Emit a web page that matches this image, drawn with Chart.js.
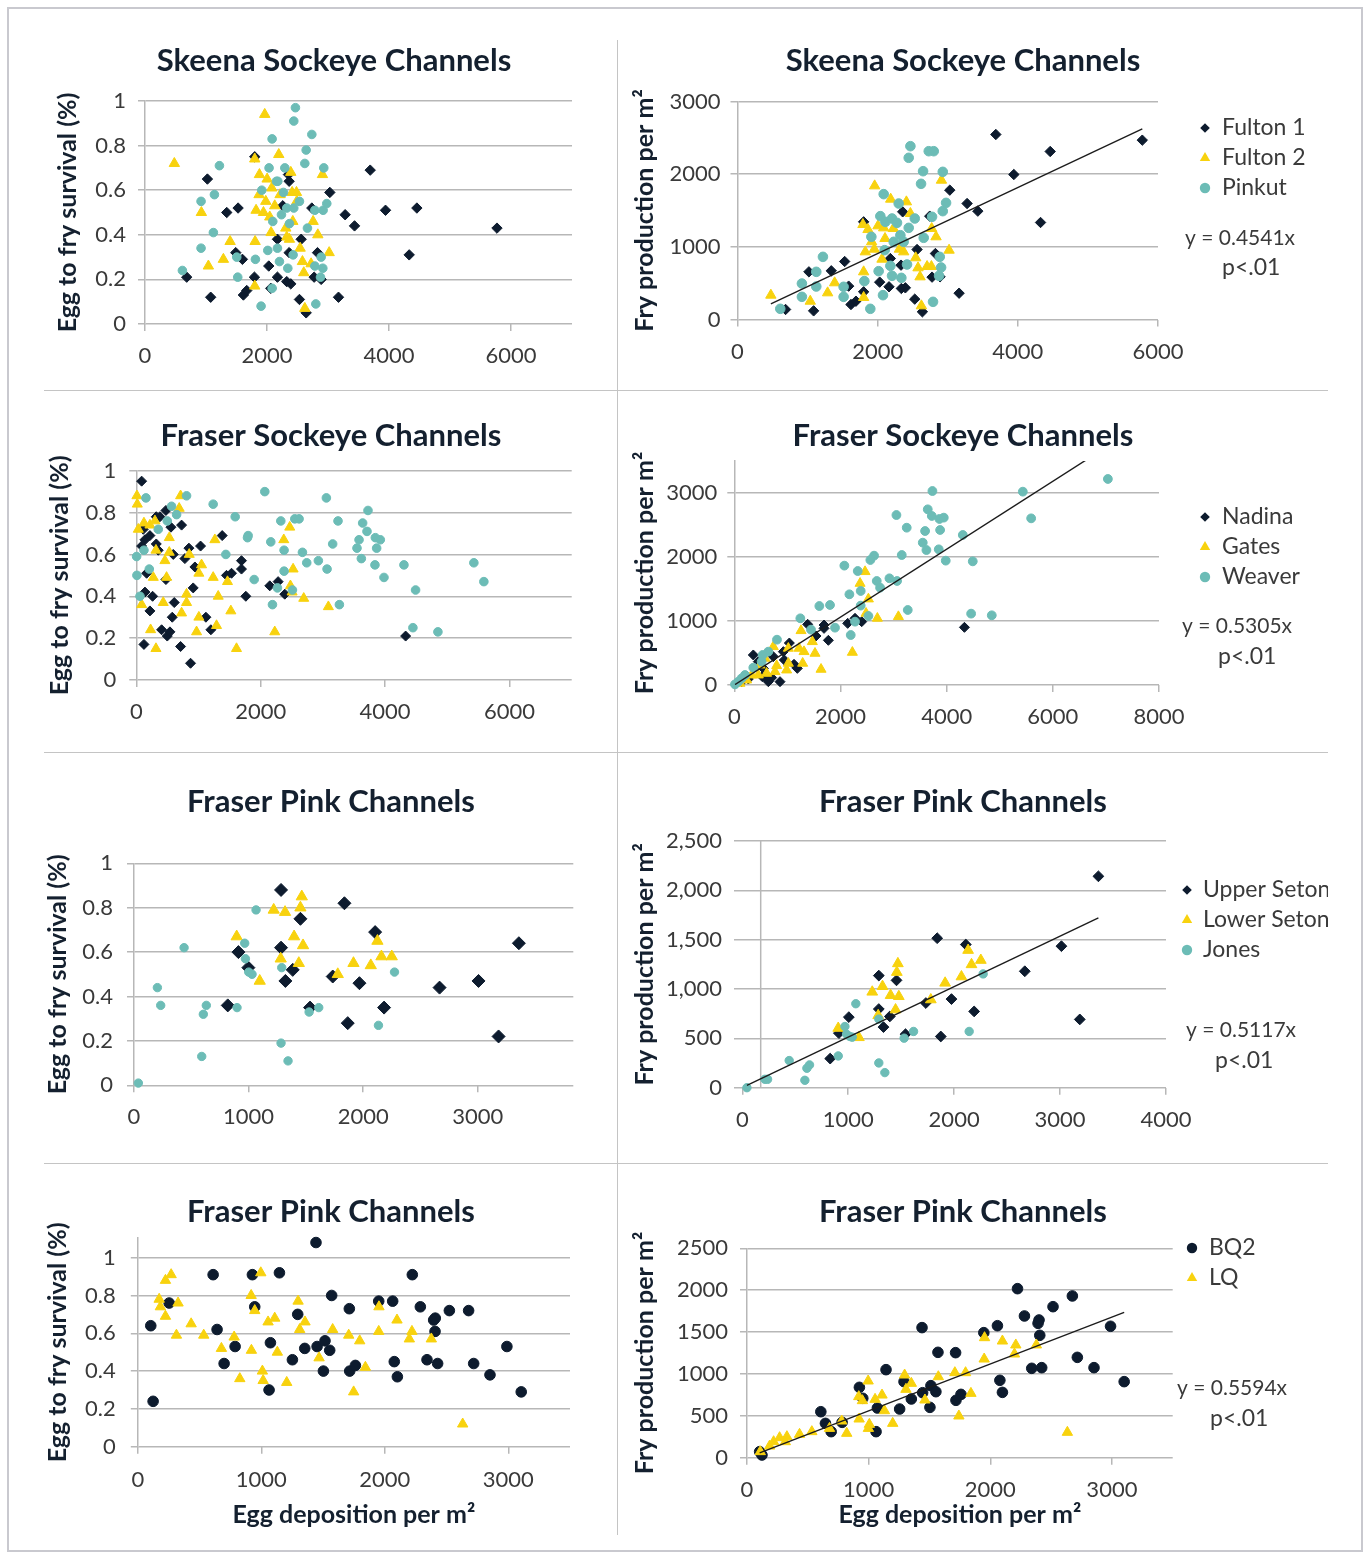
<!DOCTYPE html>
<html>
<head>
<meta charset="utf-8">
<title>Egg to fry survival and fry production in spawning channels</title>
<script src="https://cdn.jsdelivr.net/npm/chart.js@4.4.1/dist/chart.umd.min.js"></script>
<style>
  html, body { margin: 0; padding: 0; background: #ffffff; }
  #page { position: relative; width: 1367px; height: 1554px; overflow: hidden; background: #ffffff; }
  .frame { position: absolute; left: 7px; top: 7px; width: 1356px; height: 1545px; border: 2px solid #c9c9cf; box-sizing: border-box; }
  .vrule { position: absolute; left: 617px; top: 40px; width: 1px; height: 1495px; background: #c4c4c4; }
  .hrule { position: absolute; left: 44px; width: 1284px; height: 1px; background: #c4c4c4; }
  canvas { position: absolute; }
</style>
</head>
<body>
<div id="page">
  <div class="frame"></div>
  <div class="vrule"></div>
  <div class="hrule" style="top:390px"></div>
  <div class="hrule" style="top:752px"></div>
  <div class="hrule" style="top:1163px"></div>
  <canvas id="p1"></canvas>
  <canvas id="p2"></canvas>
  <canvas id="p3"></canvas>
  <canvas id="p4"></canvas>
  <canvas id="p5"></canvas>
  <canvas id="p6"></canvas>
  <canvas id="p7"></canvas>
  <canvas id="p8"></canvas>
</div>
<script>
// ---------------- Series names ----------------
const skeenaNames = ['Fulton 1', 'Fulton 2', 'Pinkut'];
const fraserSockeyeNames = ['Nadina', 'Gates', 'Weaver'];
const setonNames = ['Upper Seton', 'Lower Seton', 'Jones'];
const pinkNames = ['BQ2', 'LQ'];

// ---------------- Skeena sockeye: egg deposition vs survival ----------------
const skeenaSurvFulton1 = [[684,.21],[1023,.65],[1077,.12],[1340,.50],[1526,.52],[1488,.32],[1597,.29],[1613,.13],[1668,.15],[1799,.75],[1794,.21],[2029,.26],[2062,.16],[2171,.38],[2171,.21],[2352,.67],[2363,.64],[2324,.19],[2390,.18],[2560,.38],[2532,.11],[2642,.05],[2735,.52],[2773,.21],[2828,.32],[2888,.20],[3030,.59],[3172,.12],[3281,.49],[3435,.44],[3692,.69],[3943,.51],[4457,.52],[4331,.31],[5770,.43],[2363,.32],[2259,.53]];
const skeenaSurvFulton2 = [[481,.72],[924,.50],[1039,.26],[1285,.29],[1395,.37],[1805,.37],[1799,.74],[1799,.17],[1963,.94],[2193,.76],[1876,.67],[2002,.65],[2078,.61],[1870,.58],[1980,.55],[1821,.51],[1942,.50],[2127,.53],[2045,.48],[2067,.41],[2308,.43],[2324,.39],[2390,.68],[2412,.59],[2483,.59],[2423,.46],[2368,.38],[2543,.34],[2581,.28],[2603,.23],[2723,.27],[2620,.07],[2756,.46],[2833,.40],[2909,.67],[3019,.32],[2215,.58],[2488,.55]];
const skeenaSurvPinkut = [[613,.24],[919,.34],[919,.55],[1121,.41],[1138,.58],[1220,.71],[1504,.30],[1520,.21],[1810,.29],[1903,.08],[2013,.33],[2084,.16],[2171,.34],[2204,.28],[2341,.25],[2428,.31],[2084,.83],[2034,.70],[2292,.70],[2155,.64],[1914,.60],[2270,.59],[2095,.46],[2237,.49],[2368,.45],[2324,.52],[2439,.52],[2532,.55],[2466,.97],[2439,.91],[2735,.85],[2642,.78],[2620,.72],[2931,.70],[2663,.43],[2784,.51],[2920,.51],[2980,.54],[2888,.30],[2784,.26],[2915,.25],[2877,.21],[2800,.09],[2177,.64]];

// ---------------- Skeena sockeye: egg deposition vs fry production ----------------
const skeenaFryFulton1 = [[686,138],[1086,119],[1019,656],[1338,670],[1529,798],[1586,459],[1619,206],[1690,252],[1800,1344],[1800,381],[2029,514],[2162,450],[2181,839],[2338,427],[2395,436],[2357,1482],[2529,280],[2562,963],[2638,106],[2743,1422],[2776,583],[2824,908],[2890,587],[3029,1780],[3162,362],[3276,1596],[3429,1491],[3686,2546],[3943,1995],[4324,1335],[4462,2312],[5776,2468],[2333,748]];
const skeenaFryFulton2 = [[476,335],[1038,252],[1286,367],[1386,505],[1800,303],[1800,656],[1790,1307],[1957,1839],[1862,1238],[2005,1289],[1824,931],[1952,968],[2086,1261],[2186,1656],[2410,1619],[2467,1459],[2105,1115],[2224,1252],[2062,830],[2371,931],[2310,968],[2543,849],[2576,711],[2605,587],[2705,729],[2767,729],[2624,188],[2771,1252],[2833,1138],[2910,1917],[3019,954],[1914,1069]];
const skeenaFryPinkut = [[610,147],[919,495],[919,312],[1124,656],[1124,454],[1219,862],[1514,450],[1514,312],[1810,528],[1895,147],[2076,335],[2014,665],[2181,738],[2205,601],[2338,573],[2419,757],[1910,1138],[2038,1422],[2086,1725],[2110,1344],[2205,1390],[2276,1330],[2300,1596],[2100,954],[2229,1069],[2324,1160],[2371,1069],[2443,1261],[2529,1390],[2776,1413],[2657,1124],[2467,2385],[2443,2225],[2729,2316],[2800,2316],[2648,2041],[2929,2032],[2619,1867],[2929,1491],[2976,1605],[2886,862],[2905,716],[2876,601],[2790,243]];

// ---------------- Fraser sockeye: egg deposition vs survival ----------------
const fraserSurvNadina = [[86,.95],[321,.78],[380,.78],[476,.81],[557,.73],[728,.74],[112,.72],[139,.67],[219,.69],[86,.64],[321,.65],[353,.62],[594,.60],[781,.58],[846,.63],[1033,.64],[942,.54],[1381,.69],[166,.51],[476,.48],[139,.42],[262,.40],[219,.33],[610,.37],[578,.30],[407,.24],[498,.21],[541,.23],[123,.17],[712,.16],[872,.08],[915,.44],[1119,.30],[1199,.24],[1450,.50],[1531,.51],[1691,.57],[1691,.53],[1761,.40],[2146,.45],[2280,.47],[2387,.41],[4330,.21]];
const fraserSurvGates = [[10,.88],[16,.84],[712,.88],[690,.82],[32,.72],[123,.75],[219,.74],[300,.76],[530,.68],[1263,.67],[316,.62],[530,.61],[460,.57],[851,.60],[273,.49],[487,.49],[1006,.51],[1049,.55],[1236,.49],[1466,.47],[86,.36],[433,.37],[808,.41],[808,.37],[728,.32],[1317,.40],[1006,.30],[1520,.33],[230,.24],[316,.15],[969,.23],[1290,.26],[1611,.15],[2226,.23],[2467,.73],[2371,.67],[2521,.53],[2478,.45],[2505,.42],[2692,.39],[3088,.35]];
const fraserSurvWeaver = [[5,.59],[10,.50],[59,.40],[123,.62],[209,.53],[155,.87],[567,.83],[808,.88],[648,.79],[498,.76],[353,.72],[1236,.84],[1590,.78],[1440,.60],[1798,.69],[1788,.68],[1895,.48],[2066,.90],[2162,.66],[2323,.76],[2376,.62],[2548,.77],[2617,.77],[2671,.61],[2376,.52],[2269,.44],[2510,.43],[2189,.36],[2740,.56],[2927,.57],[3067,.53],[3056,.87],[3243,.76],[3157,.65],[3265,.36],[3548,.63],[3581,.67],[3618,.58],[3639,.75],[3709,.71],[3725,.81],[3843,.68],[3923,.67],[3864,.63],[3837,.55],[3982,.49],[4303,.55],[4490,.43],[4447,.25],[4849,.23],[5427,.56],[5588,.47]];

// ---------------- Fraser sockeye: egg deposition vs fry production ----------------
const fraserFryNadina = [[4335,901],[1382,948],[1690,937],[1690,885],[2136,963],[2274,1042],[2400,990],[1539,766],[1772,698],[1037,656],[924,521],[942,391],[1125,323],[1187,260],[861,52],[704,115],[528,130],[452,365],[547,260],[264,94],[138,52],[358,469],[735,443],[641,52]];
const fraserFryGates = [[2463,1771],[2369,1588],[2526,1344],[2482,1120],[2695,1042],[3091,1068],[2224,510],[1257,849],[1470,677],[1313,521],[1520,495],[1288,339],[1634,245],[1018,339],[986,234],[798,302],[767,208],[735,599],[578,417],[484,312],[327,156],[232,78],[107,26],[452,156],[609,182],[1219,573],[1018,573]];
const fraserFryWeaver = [[7037,3219],[3732,3031],[5435,3021],[5592,2604],[3644,2745],[3720,2641],[3864,2594],[3946,2615],[3054,2656],[3248,2458],[3594,2406],[3877,2422],[4304,2344],[3550,2224],[3619,2109],[3851,2120],[3983,1943],[4492,1932],[3154,2031],[2633,2021],[2563,1953],[2073,1865],[2325,1781],[2683,1625],[2922,1667],[3066,1625],[2746,1521],[2381,1469],[2168,1417],[2381,1240],[1803,1250],[1602,1234],[3267,1172],[4461,1115],[4850,1089],[2526,1078],[2274,990],[1244,1042],[1897,896],[1445,865],[2193,781],[804,708],[641,521],[534,469],[358,271],[515,365],[201,156],[75,52],[13,10],[138,104]];

// ---------------- Fraser pink (Seton / Jones): survival ----------------
const setonSurvUpper = [[1283,.88],[1836,.82],[1452,.75],[2104,.69],[1283,.62],[911,.60],[998,.53],[1385,.52],[1321,.47],[1734,.49],[1967,.46],[818,.36],[1536,.35],[2182,.35],[1865,.28],[2666,.44],[3006,.47],[3358,.64],[3181,.22]];
const setonSurvLower = [[1464,.85],[1219,.79],[1318,.78],[1452,.80],[896,.67],[1397,.67],[1475,.63],[1280,.57],[1438,.55],[1097,.47],[1778,.50],[1915,.55],[2066,.54],[2124,.65],[2159,.58],[2249,.58]];
const setonSurvJones = [[38,.01],[204,.44],[233,.36],[437,.62],[591,.13],[605,.32],[631,.36],[899,.35],[966,.64],[972,.57],[1001,.51],[1030,.50],[1065,.79],[1283,.19],[1289,.53],[1344,.11],[1528,.33],[1612,.35],[2133,.27],[2273,.51]];

// ---------------- Fraser pink (Seton / Jones): fry production ----------------
const setonFryUpper = [[3362,2142],[1840,1515],[2110,1451],[3013,1434],[2667,1180],[3186,692],[1289,1136],[1456,1088],[1289,797],[1393,722],[1333,614],[1006,715],[912,553],[830,295],[1541,542],[1733,858],[1975,898],[2189,773],[1874,519]];
const setonFryLower = [[1469,1258],[1459,1170],[1227,970],[1324,1027],[1400,936],[1478,925],[1447,790],[1283,732],[906,603],[1101,509],[1780,892],[1915,1061],[2069,1125],[2132,1393],[2164,1248],[2252,1292]];
const setonFryJones = [[44,0],[214,85],[239,85],[443,275],[591,75],[610,197],[635,231],[906,322],[969,620],[985,542],[1016,519],[1038,512],[1072,851],[1289,251],[1346,153],[1289,695],[1528,502],[1617,570],[2142,570],[2274,1153]];

// ---------------- Fraser pink (BQ2 / LQ): survival ----------------
const pinkSurvBQ2 = [[1443,1.08],[610,.91],[928,.91],[1147,.92],[2223,.91],[254,.76],[105,.64],[124,.24],[642,.62],[788,.53],[699,.44],[947,.74],[1074,.55],[1063,.30],[1252,.46],[1295,.70],[1352,.52],[1452,.53],[1516,.56],[1554,.51],[1503,.40],[1570,.80],[1713,.73],[1716,.40],[1762,.43],[1951,.77],[2064,.77],[2077,.45],[2102,.37],[2288,.74],[2396,.67],[2409,.68],[2407,.61],[2342,.46],[2428,.44],[2523,.72],[2679,.72],[2720,.44],[2852,.38],[2989,.53],[3105,.29]];
const pinkSurvLQ = [[224,.88],[270,.91],[173,.78],[183,.74],[224,.69],[326,.76],[313,.59],[432,.65],[534,.59],[677,.52],[780,.58],[826,.36],[918,.80],[947,.72],[996,.92],[920,.51],[1009,.40],[1015,.35],[1055,.66],[1109,.68],[1130,.50],[1206,.34],[1298,.77],[1311,.62],[1354,.66],[1468,.47],[1578,.62],[1708,.59],[1797,.56],[1748,.29],[1843,.42],[1953,.74],[1951,.61],[2099,.67],[2199,.57],[2220,.61],[2377,.57],[2631,.12]];

// ---------------- Fraser pink (BQ2 / LQ): fry production ----------------
const pinkFryBQ2 = [[2224,2018],[2675,1931],[2516,1803],[2281,1692],[2401,1644],[2393,1604],[2407,1461],[2989,1569],[2059,1576],[1947,1493],[1439,1553],[1570,1258],[1715,1254],[2341,1067],[2423,1075],[2716,1198],[2853,1075],[3101,908],[2079,924],[2100,780],[1143,1051],[924,840],[952,709],[1291,908],[1512,860],[1444,776],[1553,788],[1759,756],[1718,685],[1351,701],[1504,601],[1072,593],[1255,581],[607,549],[645,410],[692,311],[782,422],[1061,311],[104,72],[123,32]];
const pinkFryLQ = [[1953,1433],[2100,1393],[2210,1346],[2199,1238],[2379,1346],[1950,1178],[1573,967],[1709,1015],[1797,1015],[1841,768],[1742,498],[2634,303],[996,916],[1296,987],[1307,816],[1351,888],[1463,689],[1110,748],[1053,697],[919,729],[949,681],[1130,561],[1198,410],[1006,398],[998,350],[922,462],[820,291],[779,438],[678,350],[533,311],[432,279],[328,251],[268,239],[219,191],[186,139],[315,191],[109,72]];

// ---------------- Fitted slopes (y = b·x) ----------------
const slopeSkeena = 0.4541;
const slopeFraserSockeye = 0.5305;
const slopeSeton = 0.5117;
const slopePink = 0.5594;

// ---------------- Axis ticks and labels ----------------
const survTicks = [0, 0.2, 0.4, 0.6, 0.8, 1];
const survLabels = ['0', '0.2', '0.4', '0.6', '0.8', '1'];
const egg6000Ticks = [0, 2000, 4000, 6000];
const egg6000Labels = ['0', '2000', '4000', '6000'];
const egg8000Ticks = [0, 2000, 4000, 6000, 8000];
const egg8000Labels = ['0', '2000', '4000', '6000', '8000'];
const egg3000Ticks = [0, 1000, 2000, 3000];
const egg3000Labels = ['0', '1000', '2000', '3000'];
const egg4000Ticks = [0, 1000, 2000, 3000, 4000];
const egg4000Labels = ['0', '1000', '2000', '3000', '4000'];
const fry3000Ticks = [0, 1000, 2000, 3000];
const fry3000Labels = ['0', '1000', '2000', '3000'];
const fry2500CommaTicks = [0, 500, 1000, 1500, 2000, 2500];
const fry2500CommaLabels = ['0', '500', '1,000', '1,500', '2,000', '2,500'];
const fry2500Labels = ['0', '500', '1000', '1500', '2000', '2500'];

// ---------------- Text ----------------
const titleSkeena = 'Skeena Sockeye Channels';
const titleFraserSockeye = 'Fraser Sockeye Channels';
const titlePink = 'Fraser Pink Channels';
const survAxisTitle = 'Egg to fry survival (%)';
const fryAxisTitle = 'Fry production per m²';
const eggAxisTitle = 'Egg deposition per m²';

// ---------------- Styling ----------------
const NAVY = '#0d1b2e';
const GOLD = '#f8d20e';
const TEAL = '#6cbcb6';
const GRID = '#b7b7b7';
const INK = '#14202f';
const TICK = '#3a3a3a';
const FAMILY = 'Lato, "Open Sans", sans-serif';
const AXIS_TITLE_SIZE = 25;
const AXIS_TITLE_HALF = AXIS_TITLE_SIZE * 1.2 / 2;

function drawMarker(ctx, shape, color, x, y, r) {
  ctx.fillStyle = color;
  ctx.beginPath();
  if (shape === 'rectRot') {
    ctx.moveTo(x, y - r); ctx.lineTo(x + r, y); ctx.lineTo(x, y + r); ctx.lineTo(x - r, y);
  } else if (shape === 'triangle') {
    ctx.moveTo(x, y - r); ctx.lineTo(x + 0.866 * r, y + 0.5 * r); ctx.lineTo(x - 0.866 * r, y + 0.5 * r);
  } else {
    ctx.arc(x, y, r, 0, Math.PI * 2);
  }
  ctx.closePath();
  ctx.fill();
}

// Panel title, legend, regression note and an interior vertical axis line.
function makeDecor(cfg) {
  const [L, T] = cfg.box;
  return {
    id: 'decor',
    beforeDatasetsDraw(chart) {
      if (cfg.axisAt === undefined) return;
      const ctx = chart.ctx, a = chart.chartArea;
      const x = chart.scales.x.getPixelForValue(cfg.axisAt);
      ctx.save();
      ctx.strokeStyle = GRID; ctx.lineWidth = 1.5;
      ctx.beginPath(); ctx.moveTo(x, a.top); ctx.lineTo(x, a.bottom); ctx.stroke();
      ctx.restore();
    },
    afterDraw(chart) {
      const ctx = chart.ctx;
      ctx.save();
      ctx.textBaseline = 'middle';
      ctx.textAlign = 'center';
      ctx.fillStyle = INK;
      ctx.font = 'bold 31px ' + FAMILY;
      ctx.fillText(cfg.title[0], cfg.title[1] - L, cfg.title[2] - T);
      ctx.textAlign = 'left';
      ctx.font = '23px ' + FAMILY;
      if (cfg.legend) {
        cfg.series.forEach((s, i) => {
          const y = cfg.legend.y[i] - T;
          const r = s.shape === 'rectRot' ? 4.8 : (s.shape === 'triangle' ? 6 : 5.2);
          drawMarker(ctx, s.shape, s.color, cfg.legend.x - L, y, r);
          ctx.fillStyle = TICK;
          ctx.fillText(s.name, cfg.legend.textX - L, y);
        });
      }
      (cfg.notes || []).forEach(n => {
        ctx.fillStyle = TICK;
        ctx.font = n[3] + 'px ' + FAMILY;
        ctx.fillText(n[0], n[1] - L, n[2] - T);
      });
      ctx.restore();
    }
  };
}

function buildPanel(cfg) {
  const canvas = document.getElementById(cfg.id);
  const [L, T, W, H] = cfg.box;
  const [ax0, ay0, ax1, ay1] = cfg.area;
  canvas.width = W; canvas.height = H;
  canvas.style.left = L + 'px'; canvas.style.top = T + 'px';
  canvas.style.width = W + 'px'; canvas.style.height = H + 'px';

  const yWidth = ax0 - L;
  const xHeight = cfg.xHeight;
  const n = cfg.series.length;
  const datasets = cfg.series.map((s, i) => ({
    type: 'scatter',
    label: s.name,
    data: s.points.map(p => ({ x: p[0], y: p[1] })),
    pointStyle: s.shape,
    pointRadius: s.r,
    pointBackgroundColor: s.color,
    pointBorderColor: s.color,
    pointBorderWidth: 1,
    order: n - i + 1,
    clip: 12
  }));
  if (cfg.slope !== undefined) {
    const xs = cfg.series.flatMap(s => s.points.map(p => p[0]));
    const x0 = Math.min(...xs), x1 = Math.max(...xs);
    datasets.push({
      type: 'line',
      label: 'trend',
      data: [{ x: x0, y: cfg.slope * x0 }, { x: x1, y: cfg.slope * x1 }],
      borderColor: '#1c1c1c',
      borderWidth: 1.4,
      pointRadius: 0,
      fill: false,
      order: 0,
      clip: 0
    });
  }

  const titleFont = { family: FAMILY, size: AXIS_TITLE_SIZE, weight: 'bold', lineHeight: 1.2 };
  const tickFont = { family: FAMILY, size: 22, lineHeight: 1.2 };

  new Chart(canvas, {
    type: 'scatter',
    data: { datasets },
    options: {
      responsive: false,
      animation: false,
      events: [],
      devicePixelRatio: 1,
      layout: { padding: { left: 0, top: ay0 - T, right: L + W - ax1, bottom: T + H - ay1 - xHeight } },
      plugins: { legend: { display: false }, tooltip: { enabled: false }, title: { display: false } },
      scales: {
        x: {
          type: 'linear',
          min: cfg.x.min, max: cfg.x.max,
          afterFit: s => { s.height = xHeight; },
          afterBuildTicks: s => { s.ticks = cfg.x.ticks.map(v => ({ value: v })); },
          ticks: {
            callback: (v, i) => cfg.x.labels[i],
            font: tickFont, color: TICK, padding: cfg.x.pad,
            maxRotation: 0, autoSkip: false
          },
          grid: { display: true, drawOnChartArea: false, drawTicks: true, tickLength: 7, color: GRID, lineWidth: 1.5 },
          border: { display: false },
          title: cfg.xTitle ? {
            display: true, text: cfg.xTitle, font: titleFont, color: INK,
            padding: { top: 0, bottom: cfg.xTitlePad }
          } : { display: false }
        },
        y: {
          type: 'linear',
          min: cfg.y.min, max: cfg.y.max,
          afterFit: s => { s.width = yWidth; },
          afterBuildTicks: s => { s.ticks = cfg.y.ticks.map(v => ({ value: v })); },
          ticks: {
            callback: (v, i) => cfg.y.labels[i],
            font: tickFont, color: TICK, padding: cfg.y.pad, autoSkip: false
          },
          grid: { display: true, drawTicks: cfg.y.drawTicks !== false, tickLength: 7, color: GRID, lineWidth: 1.5 },
          border: { display: cfg.y.border !== false, color: GRID, width: 1.5 },
          title: {
            display: true, text: cfg.yTitle, font: titleFont, color: INK,
            padding: { top: cfg.yTitleX - L - AXIS_TITLE_HALF, bottom: 0 }
          }
        }
      }
    },
    plugins: [makeDecor(cfg)]
  });
}

const sNavy = (name, points, r) => ({ name, points, shape: 'rectRot', color: NAVY, r });
const sGold = (name, points, r) => ({ name, points, shape: 'triangle', color: GOLD, r });
const sTeal = (name, points, r) => ({ name, points, shape: 'circle', color: TEAL, r });
const sNavyDot = (name, points, r) => ({ name, points, shape: 'circle', color: NAVY, r });

const panels = [
  {
    id: 'p1', box: [44, 40, 572, 350], area: [145, 101, 572, 324], xHeight: 45,
    title: [titleSkeena, 334, 61], yTitle: survAxisTitle, yTitleX: 68,
    x: { min: 0, max: 7000, ticks: egg6000Ticks, labels: egg6000Labels, pad: 12 },
    y: { min: 0, max: 1, ticks: survTicks, labels: survLabels, pad: 12 },
    series: [sNavy(skeenaNames[0], skeenaSurvFulton1, 5.2), sGold(skeenaNames[1], skeenaSurvFulton2, 6), sTeal(skeenaNames[2], skeenaSurvPinkut, 4.3)]
  },
  {
    id: 'p2', box: [618, 40, 710, 350], area: [737.5, 101.5, 1158, 319.5], xHeight: 45,
    title: [titleSkeena, 963, 61], yTitle: fryAxisTitle, yTitleX: 645,
    x: { min: 0, max: 6000, ticks: egg6000Ticks, labels: egg6000Labels, pad: 12 },
    y: { min: 0, max: 3000, ticks: fry3000Ticks, labels: fry3000Labels, pad: 10 },
    series: [sNavy(skeenaNames[0], skeenaFryFulton1, 5.2), sGold(skeenaNames[1], skeenaFryFulton2, 6), sTeal(skeenaNames[2], skeenaFryPinkut, 4.8)],
    slope: slopeSkeena,
    legend: { x: 1205, textX: 1222, y: [128, 158, 188] },
    notes: [['y = ' + slopeSkeena + 'x', 1185, 238, 21], ['p<.01', 1222, 268, 23]]
  },
  {
    id: 'p3', box: [44, 391, 572, 361], area: [136.3, 470.7, 571.7, 680], xHeight: 45,
    title: [titleFraserSockeye, 331, 436], yTitle: survAxisTitle, yTitleX: 60,
    x: { min: 0, max: 7000, ticks: egg6000Ticks, labels: egg6000Labels, pad: 12 },
    y: { min: 0, max: 1, ticks: survTicks, labels: survLabels, pad: 13 },
    series: [sNavy(fraserSockeyeNames[0], fraserSurvNadina, 5), sGold(fraserSockeyeNames[1], fraserSurvGates, 5.8), sTeal(fraserSockeyeNames[2], fraserSurvWeaver, 4.3)]
  },
  {
    id: 'p4', box: [618, 391, 710, 361], area: [734.3, 461, 1159, 685], xHeight: 45,
    title: [titleFraserSockeye, 963, 436], yTitle: fryAxisTitle, yTitleX: 645,
    x: { min: 0, max: 8000, ticks: egg8000Ticks, labels: egg8000Labels, pad: 12 },
    y: { min: 0, max: 3500, ticks: fry3000Ticks, labels: fry3000Labels, pad: 10 },
    series: [sNavy(fraserSockeyeNames[0], fraserFryNadina, 5), sGold(fraserSockeyeNames[1], fraserFryGates, 5.8), sTeal(fraserSockeyeNames[2], fraserFryWeaver, 4.4)],
    slope: slopeFraserSockeye,
    legend: { x: 1205, textX: 1222, y: [517, 547, 577] },
    notes: [['y = ' + slopeFraserSockeye + 'x', 1182, 626, 21], ['p<.01', 1218, 657, 23]]
  },
  {
    id: 'p5', box: [44, 753, 572, 410], area: [134, 863.3, 573.3, 1085.3], xHeight: 45,
    title: [titlePink, 331, 802], yTitle: survAxisTitle, yTitleX: 58,
    x: { min: 0, max: 3833, ticks: egg3000Ticks, labels: egg3000Labels, pad: 11.5 },
    y: { min: 0, max: 1, ticks: survTicks, labels: survLabels, pad: 14 },
    series: [sNavy(setonNames[0], setonSurvUpper, 6.5), sGold(setonNames[1], setonSurvLower, 6.5), sTeal(setonNames[2], setonSurvJones, 4.2)]
  },
  {
    id: 'p6', box: [618, 753, 710, 410], area: [734, 841, 1166, 1087.7], xHeight: 45,
    title: [titlePink, 963, 802], yTitle: fryAxisTitle, yTitleX: 645,
    x: { min: -78, max: 4000, ticks: egg4000Ticks, labels: egg4000Labels, pad: 12 },
    y: { min: 0, max: 2500, ticks: fry2500CommaTicks, labels: fry2500CommaLabels, pad: 12, drawTicks: false, border: false },
    axisAt: 174,
    series: [sNavy(setonNames[0], setonFryUpper, 5.4), sGold(setonNames[1], setonFryLower, 6.2), sTeal(setonNames[2], setonFryJones, 4.2)],
    slope: slopeSeton,
    legend: { x: 1187, textX: 1203, y: [890, 920, 950] },
    notes: [['y = ' + slopeSeton + 'x', 1186, 1030, 21], ['p<.01', 1215, 1061, 23]]
  },
  {
    id: 'p7', box: [44, 1164, 572, 386], area: [137.8, 1238, 570, 1446.7], xHeight: 85,
    title: [titlePink, 331, 1212], yTitle: survAxisTitle, yTitleX: 58,
    xTitle: eggAxisTitle, xTitlePad: 1.7,
    x: { min: 0, max: 3500, ticks: egg3000Ticks, labels: egg3000Labels, pad: 13 },
    y: { min: 0, max: 1.104, ticks: survTicks, labels: survLabels, pad: 15 },
    series: [sNavyDot(pinkNames[0], pinkSurvBQ2, 5.3), sGold(pinkNames[1], pinkSurvLQ, 6)]
  },
  {
    id: 'p8', box: [618, 1164, 710, 386], area: [747, 1248.3, 1172.7, 1457.7], xHeight: 74,
    title: [titlePink, 963, 1212], yTitle: fryAxisTitle, yTitleX: 645,
    xTitle: eggAxisTitle, xTitlePad: 1.7,
    x: { min: 0, max: 3500, ticks: egg3000Ticks, labels: egg3000Labels, pad: 12 },
    y: { min: 0, max: 2500, ticks: fry2500CommaTicks, labels: fry2500Labels, pad: 12 },
    series: [sNavyDot(pinkNames[0], pinkFryBQ2, 5.3), sGold(pinkNames[1], pinkFryLQ, 6)],
    slope: slopePink,
    legend: { x: 1192, textX: 1209, y: [1248, 1278] },
    notes: [['y = ' + slopePink + 'x', 1177, 1388, 21], ['p<.01', 1210, 1419, 23]]
  }
];

panels.forEach(buildPanel);
</script>
</body>
</html>
